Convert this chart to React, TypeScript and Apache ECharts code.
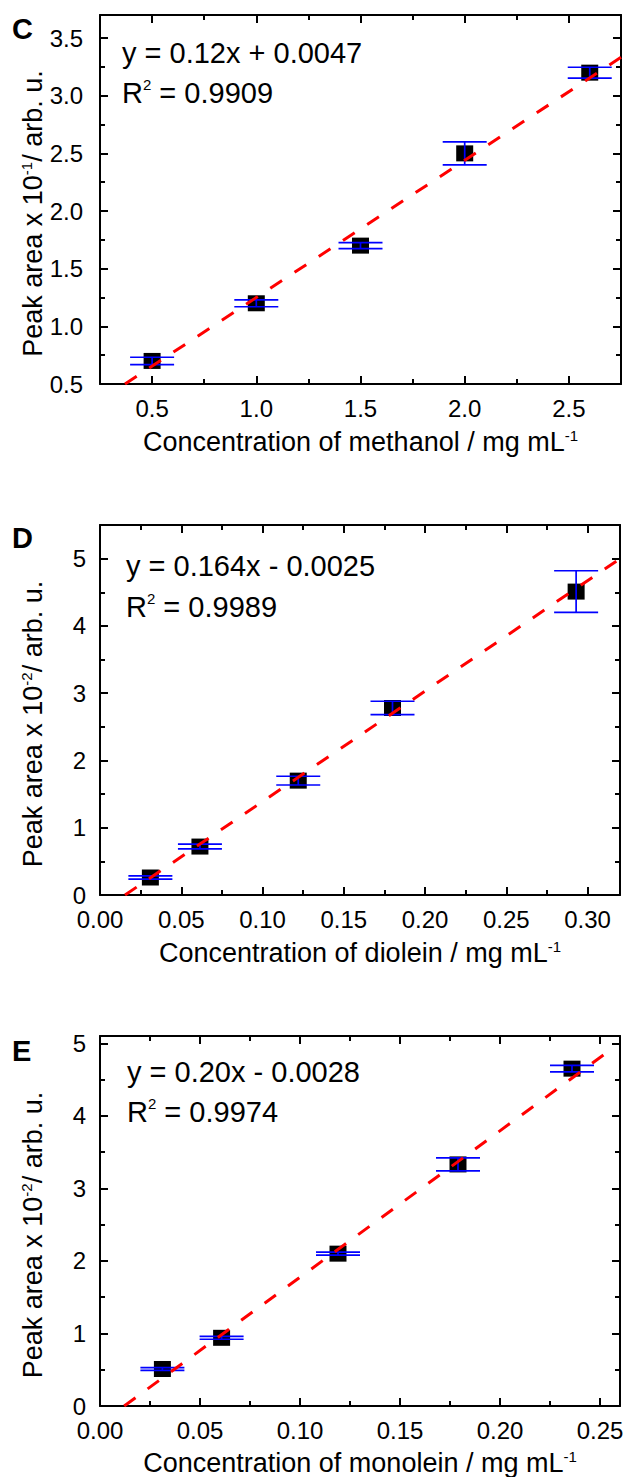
import React, { useEffect, useRef } from "react";
import * as echarts from "echarts";

const FONT = "'Liberation Sans', Arial, Helvetica, sans-serif";

// ---------- Panel C: methanol ----------
const cConc = [0.5, 1.0, 1.5, 2.0, 2.6];
const cArea = [0.7, 1.2, 1.7, 2.5, 3.2];
const cErr = [0.032, 0.03, 0.026, 0.1, 0.047];
const cFit = [[0.37, 0.5], [2.75, 3.333]];
const cXMajor = [0.5, 1.0, 1.5, 2.0, 2.5];
const cXMinor = [0.75, 1.25, 1.75, 2.25];
const cYMajor = [0.5, 1.0, 1.5, 2.0, 2.5, 3.0, 3.5];
const cYMinor = [0.75, 1.25, 1.75, 2.25, 2.75, 3.25];

// ---------- Panel D: diolein ----------
const dConc = [0.031, 0.0615, 0.122, 0.18, 0.293];
const dArea = [0.26, 0.72, 1.7, 2.78, 4.51];
const dErr = [0.025, 0.035, 0.065, 0.1, 0.31];
const dFit = [[0.0154, 0], [0.32, 5.0]];
const dXMajor = [0, 0.05, 0.1, 0.15, 0.2, 0.25, 0.3];
const dXMinor = [0.025, 0.075, 0.125, 0.175, 0.225, 0.275];
const dYMajor = [0, 1, 2, 3, 4, 5];
const dYMinor = [0.5, 1.5, 2.5, 3.5, 4.5];

// ---------- Panel E: monolein ----------
const eConc = [0.0312, 0.0608, 0.119, 0.179, 0.236];
const eArea = [0.51, 0.94, 2.1, 3.33, 4.65];
const eErr = [0.02, 0.02, 0.02, 0.09, 0.045];
const eFit = [[0.0121, 0], [0.2568, 4.94]];
const eXMajor = [0, 0.05, 0.1, 0.15, 0.2, 0.25];
const eXMinor = [0.025, 0.075, 0.125, 0.175, 0.225];
const eYMajor = [0, 1, 2, 3, 4, 5];
const eYMinor = [0.5, 1.5, 2.5, 3.5, 4.5];

const panels = [
  {
    letter: "C", eq: "y = 0.12x + 0.0047", r2: "0.9909",
    xName: "Concentration of methanol / mg mL", yExp: "-1",
    x: cConc, y: cArea, err: cErr, fit: cFit,
    xMin: 0.25, xMax: 2.75, yMin: 0.5, yMax: 3.7,
    xMajor: cXMajor, xMinor: cXMinor, yMajor: cYMajor, yMinor: cYMinor,
    xDec: 1, yDec: 1,
    grid: { left: 100, top: 15, width: 521, height: 369 },
    letterPos: [12, 29], eqPos: [122, 52.7, 93], yMargin: 17, xMargin: 12, xNameGap: 44,
  },
  {
    letter: "D", eq: "y = 0.164x - 0.0025", r2: "0.9989",
    xName: "Concentration of diolein / mg mL", yExp: "-2",
    x: dConc, y: dArea, err: dErr, fit: dFit,
    xMin: 0, xMax: 0.32, yMin: 0, yMax: 5.5,
    xMajor: dXMajor, xMinor: dXMinor, yMajor: dYMajor, yMinor: dYMinor,
    xDec: 2, yDec: 0,
    grid: { left: 100, top: 525, width: 520, height: 370 },
    letterPos: [12, 538], eqPos: [126, 565.7, 607.4], yMargin: 14, xMargin: 12, xNameGap: 44,
  },
  {
    letter: "E", eq: "y = 0.20x - 0.0028", r2: "0.9974",
    xName: "Concentration of monolein / mg mL", yExp: "-2",
    x: eConc, y: eArea, err: eErr, fit: eFit,
    xMin: 0, xMax: 0.26, yMin: 0, yMax: 5.1,
    xMajor: eXMajor, xMinor: eXMinor, yMajor: eYMajor, yMinor: eYMinor,
    xDec: 2, yDec: 0,
    grid: { left: 100, top: 1036, width: 520, height: 370 },
    letterPos: [12, 1051], eqPos: [127, 1072.4, 1112.4], yMargin: 14, xMargin: 12, xNameGap: 43,
  },
];

const nameRich = {
  n: { fontSize: 27, lineHeight: 27, fontFamily: FONT, color: "#000" },
  s: { fontSize: 15, lineHeight: 14, height: 14, verticalAlign: "top", fontFamily: FONT, color: "#000" },
};

function mkAxis(grid: number, pos: string, min: number, max: number, ticks: number[], len: number, showLine: boolean, label?: any, extra?: any) {
  return {
    type: "value",
    gridIndex: grid,
    position: pos,
    min,
    max,
    scale: true,
    axisLine: { show: showLine, onZero: false, lineStyle: { color: "#000", width: 2 } },
    axisTick: { show: true, inside: true, length: len, lineStyle: { color: "#000", width: 2 }, customValues: ticks },
    minorTick: { show: false },
    splitLine: { show: false },
    axisLabel: label ? label : { show: false },
    axisPointer: { show: false },
    ...(extra || {}),
  };
}

function buildOption() {
  const xAxis: any[] = [];
  const yAxis: any[] = [];
  const grid: any[] = [];
  const series: any[] = [];
  const graphic: any[] = [];

  panels.forEach((p, i) => {
    grid.push({ ...p.grid, outerBoundsMode: "none", containLabel: false });
    const xLabel = {
      show: true, customValues: p.xMajor, margin: p.xMargin,
      formatter: (v: number) => v.toFixed(p.xDec),
      color: "#000", fontSize: 24, fontFamily: FONT,
    };
    const yLabel = {
      show: true, customValues: p.yMajor, margin: p.yMargin,
      formatter: (v: number) => v.toFixed(p.yDec),
      color: "#000", fontSize: 24, fontFamily: FONT,
    };
    xAxis.push(mkAxis(i, "bottom", p.xMin, p.xMax, p.xMajor, 8, true, xLabel, {
      name: `{n|${p.xName}}{s|-1}`,
      nameLocation: "middle",
      nameGap: p.xNameGap,
      nameMoveOverlap: false,
      nameTextStyle: { rich: nameRich, fontFamily: FONT, fontSize: 27, color: "#000" },
    }));
    xAxis.push(mkAxis(i, "bottom", p.xMin, p.xMax, p.xMinor, 5, false));
    xAxis.push(mkAxis(i, "top", p.xMin, p.xMax, p.xMajor, 8, true));
    xAxis.push(mkAxis(i, "top", p.xMin, p.xMax, p.xMinor, 5, false));

    yAxis.push(mkAxis(i, "left", p.yMin, p.yMax, p.yMajor, 8, true, yLabel, {
      name: `{n|Peak area x 10}{s|${p.yExp}}{n|/ arb. u.}`,
      nameLocation: "middle",
      nameRotate: 90,
      nameGap: 53.5,
      nameMoveOverlap: false,
      nameTextStyle: { rich: nameRich, fontFamily: FONT, fontSize: 27, color: "#000", padding: [0, 28, 0, 0] },
    }));
    yAxis.push(mkAxis(i, "left", p.yMin, p.yMax, p.yMinor, 5, false));
    yAxis.push(mkAxis(i, "right", p.yMin, p.yMax, p.yMajor, 8, true));
    yAxis.push(mkAxis(i, "right", p.yMin, p.yMax, p.yMinor, 5, false));

    const ax = i * 4;
    series.push({
      type: "scatter",
      xAxisIndex: ax, yAxisIndex: ax,
      data: p.x.map((v, k) => [v, p.y[k]]),
      symbol: "rect",
      symbolSize: [17, 16],
      itemStyle: { color: "#000", opacity: 1 },
      emphasis: { disabled: true },
      z: 2,
    });
    series.push({
      type: "custom",
      xAxisIndex: ax, yAxisIndex: ax,
      data: p.x.map((v, k) => [v, p.y[k], p.err[k]]),
      encode: { x: 0, y: 1 },
      clip: false,
      z: 3,
      renderItem: (params: any, api: any) => {
        const xv = api.value(0);
        const yv = api.value(1);
        const e = api.value(2);
        const top = api.coord([xv, yv + e]);
        const bot = api.coord([xv, yv - e]);
        const st = { stroke: "#0000ff", lineWidth: 1.7 };
        const hw = 22;
        return {
          type: "group",
          children: [
            { type: "line", shape: { x1: top[0], y1: top[1], x2: bot[0], y2: bot[1] }, style: st },
            { type: "line", shape: { x1: top[0] - hw, y1: top[1], x2: top[0] + hw, y2: top[1] }, style: st },
            { type: "line", shape: { x1: bot[0] - hw, y1: bot[1], x2: bot[0] + hw, y2: bot[1] }, style: st },
          ],
        };
      },
    });
    series.push({
      type: "line",
      xAxisIndex: ax, yAxisIndex: ax,
      data: p.fit,
      showSymbol: false,
      symbol: "none",
      lineStyle: { color: "#ff0000", width: 3, type: [14, 15], cap: "butt" },
      emphasis: { disabled: true },
      z: 4,
    });

    graphic.push({
      type: "text",
      x: p.letterPos[0], y: p.letterPos[1], z: 10,
      style: {
        legacy: false,
        text: p.letter, fill: "#000", fontSize: 29, fontWeight: "bold", fontFamily: FONT,
        align: "left", verticalAlign: "middle",
      },
    });
    const eqRich = {
      n: { fontSize: 29, lineHeight: 29, fontFamily: FONT, fill: "#000" },
      s: { fontSize: 15, lineHeight: 11, height: 11, verticalAlign: "top", fontFamily: FONT, fill: "#000" },
    };
    graphic.push({
      type: "text",
      x: p.eqPos[0], y: p.eqPos[1], z: 10,
      style: {
        legacy: false,
        text: `{n|${p.eq}}`, rich: eqRich, fill: "#000", fontSize: 29, fontFamily: FONT,
        align: "left", verticalAlign: "middle",
      },
    });
    graphic.push({
      type: "text",
      x: p.eqPos[0], y: p.eqPos[2], z: 10,
      style: {
        legacy: false,
        text: `{n|R}{s|2}{n| = ${p.r2}}`, rich: eqRich, fill: "#000", fontSize: 29, fontFamily: FONT,
        align: "left", verticalAlign: "middle",
      },
    });
  });

  return {
    animation: false,
    backgroundColor: "#fff",
    textStyle: { fontFamily: FONT },
    grid,
    xAxis,
    yAxis,
    series,
    graphic,
  };
}

export default function App() {
  const ref = useRef<HTMLDivElement>(null);
  useEffect(() => {
    document.body.style.margin = "0";
    if (!ref.current) return;
    const chart = echarts.init(ref.current, undefined, { renderer: "svg" });
    chart.setOption(buildOption() as any);
    return () => chart.dispose();
  }, []);
  return <div ref={ref} style={{ width: 629, height: 1477, background: "#fff" }} />;
}
